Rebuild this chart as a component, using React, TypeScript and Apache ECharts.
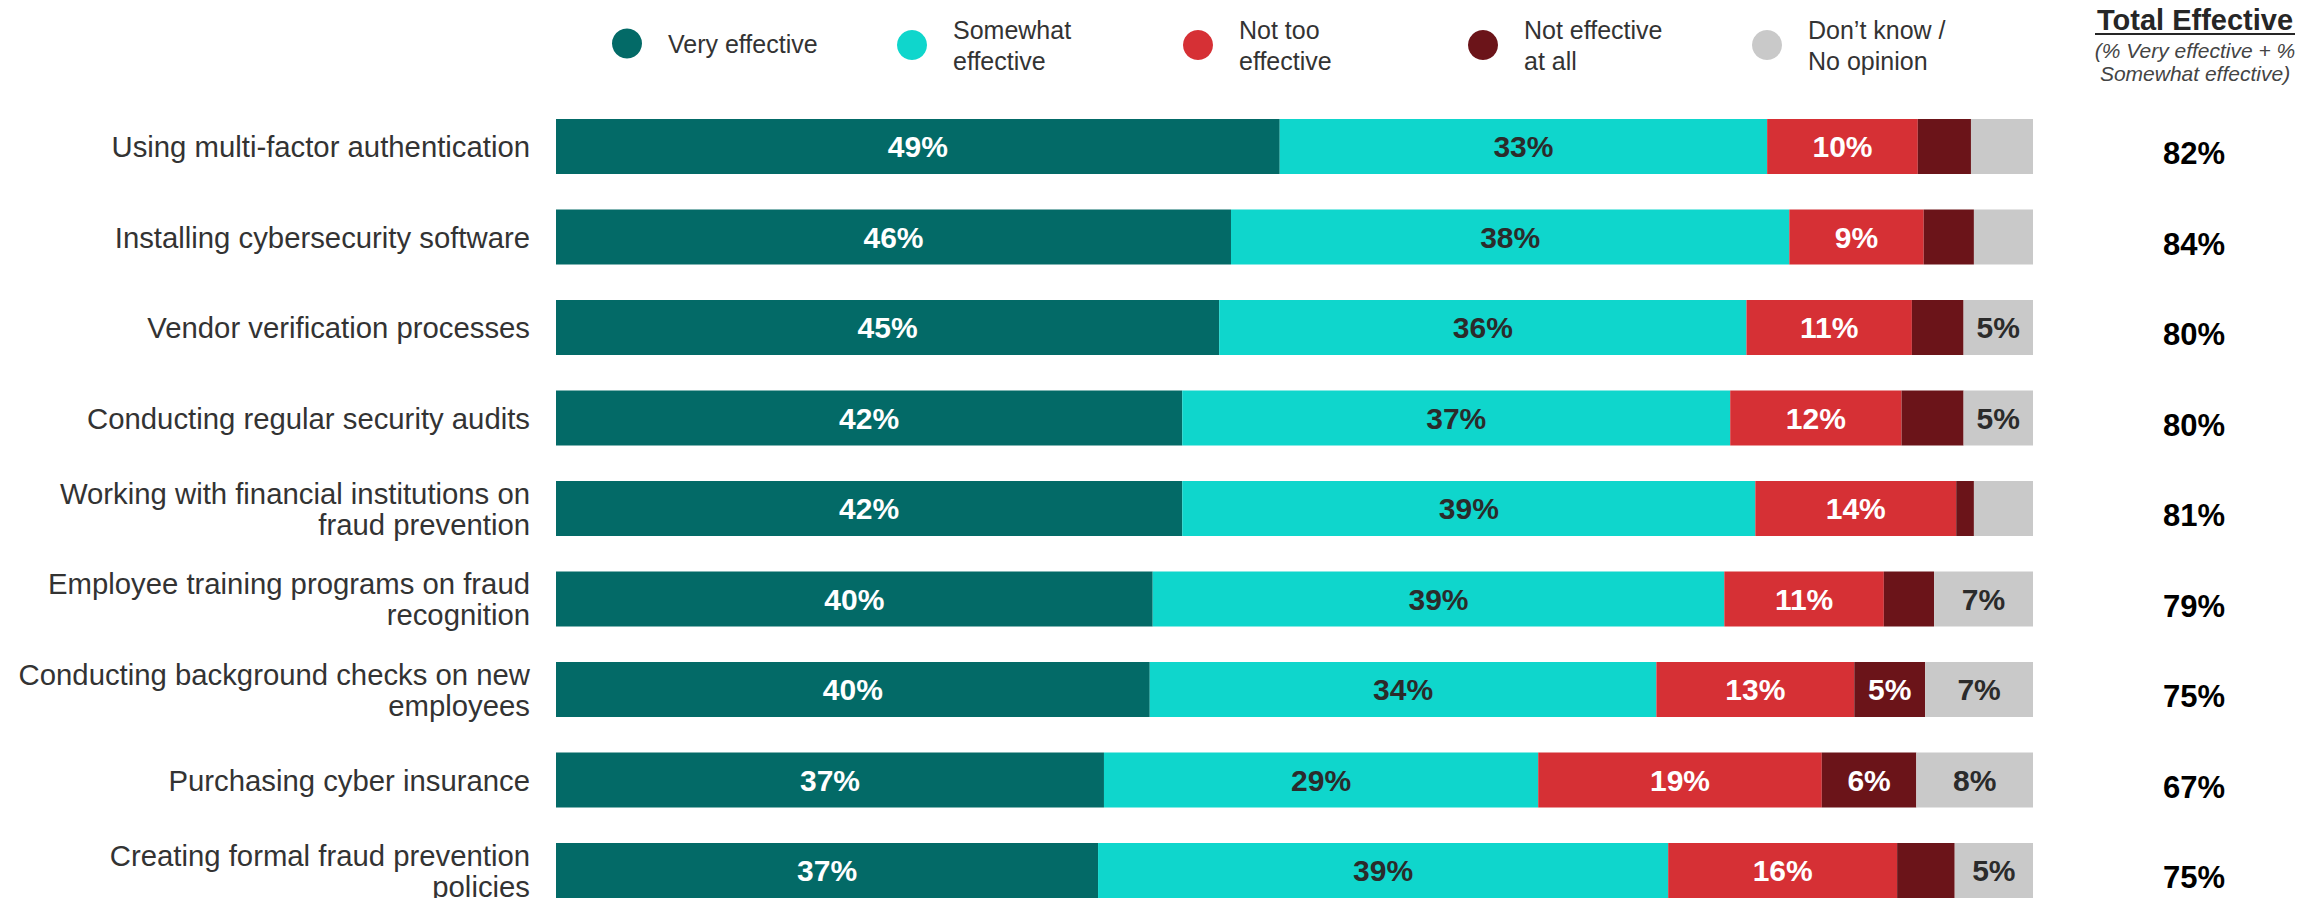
import React, { useEffect, useRef } from "react";
import * as echarts from "echarts";

const categories = [
  "Using multi-factor authentication",
  "Installing cybersecurity software",
  "Vendor verification processes",
  "Conducting regular security audits",
  "Working with financial institutions on\nfraud prevention",
  "Employee training programs on fraud\nrecognition",
  "Conducting background checks on new\nemployees",
  "Purchasing cyber insurance",
  "Creating formal fraud prevention\npolicies",
];

const seriesNames = [
  "Very effective",
  "Somewhat effective",
  "Not too effective",
  "Not effective at all",
  "Don’t know / No opinion",
];
const legendLabels = [
  "Very effective",
  "Somewhat\neffective",
  "Not too\neffective",
  "Not effective\nat all",
  "Don’t know /\nNo opinion",
];

const veryEffective = [49.0, 45.7, 44.9, 42.4, 42.4, 40.4, 40.2, 37.1, 36.7];
const somewhatEffective = [33.0, 37.8, 35.7, 37.1, 38.8, 38.7, 34.3, 29.4, 38.6];
const notTooEffective = [10.2, 9.1, 11.2, 11.6, 13.6, 10.8, 13.4, 19.2, 15.5];
const notEffectiveAtAll = [3.6, 3.4, 3.5, 4.2, 1.2, 3.4, 4.8, 6.4, 3.9];
const dontKnow = [4.2, 4.0, 4.7, 4.7, 4.0, 6.7, 7.3, 7.9, 5.3];

const totalEffective = ["82%", "84%", "80%", "80%", "81%", "79%", "75%", "67%", "75%"];

const headerTitle = "Total Effective";
const headerSub = "(% Very effective + %\nSomewhat effective)";

const colors = ["#036a67", "#0fd6cc", "#d63035", "#6b1419", "#c9c9c9"];
const labelColors = ["#ffffff", "#2b2b2b", "#ffffff", "#ffffff", "#2b2b2b"];
const legendCenters = [627, 912, 1198, 1483, 1767];

const FONT = "'Liberation Sans', Arial, Helvetica, sans-serif";

export default function App() {
  const ref = useRef<HTMLDivElement>(null);

  useEffect(() => {
    if (!ref.current) return;
    const chart = echarts.init(ref.current, undefined, { renderer: "svg" });
    const dataSets = [veryEffective, somewhatEffective, notTooEffective, notEffectiveAtAll, dontKnow];

    const option: any = {
      animation: false,
      backgroundColor: "#ffffff",
      textStyle: { fontFamily: FONT },
      legend: seriesNames.map((name, i) => {
        const twoLines = legendLabels[i].indexOf("\n") >= 0;
        return {
          data: [name],
          left: legendCenters[i] - 15,
          top: twoLines ? 14 : 28,
          padding: 0,
          icon: "circle",
          itemWidth: 30,
          itemHeight: 30,
          selectedMode: false,
          formatter: () => legendLabels[i],
          textStyle: {
            fontFamily: FONT,
            fontSize: 25,
            color: "#333333",
            lineHeight: 31,
            padding: [0, 0, 0, 21],
          },
        };
      }),
      grid: {
        left: 556,
        width: 1477,
        top: 101.35,
        height: 814.5,
        containLabel: false,
      },
      xAxis: {
        type: "value",
        min: 0,
        max: 100,
        show: false,
      },
      yAxis: [
        {
          type: "category",
          data: categories,
          inverse: true,
          axisLine: { show: false },
          axisTick: { show: false },
          axisLabel: {
            fontFamily: FONT,
            fontSize: 29.3,
            color: "#333333",
            lineHeight: 31,
            margin: 26,
            align: "right",
          },
        },
        {
          type: "category",
          data: totalEffective,
          inverse: true,
          position: "right",
          axisLine: { show: false },
          axisTick: { show: false },
          axisLabel: {
            fontFamily: FONT,
            fontSize: 31,
            fontWeight: "bold",
            color: "#000000",
            margin: 161,
            align: "center",
            verticalAlign: "top",
            lineHeight: 14,
          },
        },
      ],
      graphic: [
        {
          type: "text",
          x: 2195,
          y: 20,
          style: {
            text: headerTitle,
            fontFamily: FONT,
            fontSize: 29,
            fontWeight: "bold",
            fill: "#262626",
            align: "center",
            verticalAlign: "middle",
          },
        },
        {
          type: "line",
          shape: { x1: 2095, y1: 34, x2: 2295, y2: 34 },
          style: { stroke: "#262626", lineWidth: 2 },
        },
        {
          type: "text",
          x: 2195,
          y: 62,
          style: {
            text: headerSub,
            fontFamily: FONT,
            fontSize: 21,
            fontStyle: "italic",
            fill: "#444444",
            lineHeight: 23,
            align: "center",
            verticalAlign: "middle",
          },
        },
      ],
      series: seriesNames.map((name, i) => ({
        name,
        type: "bar",
        stack: "total",
        yAxisIndex: 0,
        barWidth: 55,
        itemStyle: { color: colors[i] },
        label: {
          show: true,
          position: "inside",
          fontFamily: FONT,
          fontSize: 30,
          fontWeight: "bold",
          color: labelColors[i],
          formatter: (p: any) => (p.value >= 4.5 ? Math.round(p.value) + "%" : ""),
        },
        data: dataSets[i],
      })),
    };

    chart.setOption(option);
    return () => chart.dispose();
  }, []);

  return (
    <div
      style={{
        position: "fixed",
        left: 0,
        top: 0,
        width: 2323,
        height: 898,
        overflow: "hidden",
        background: "#ffffff",
      }}
    >
      <div ref={ref} style={{ width: 2323, height: 930 }} />
    </div>
  );
}
